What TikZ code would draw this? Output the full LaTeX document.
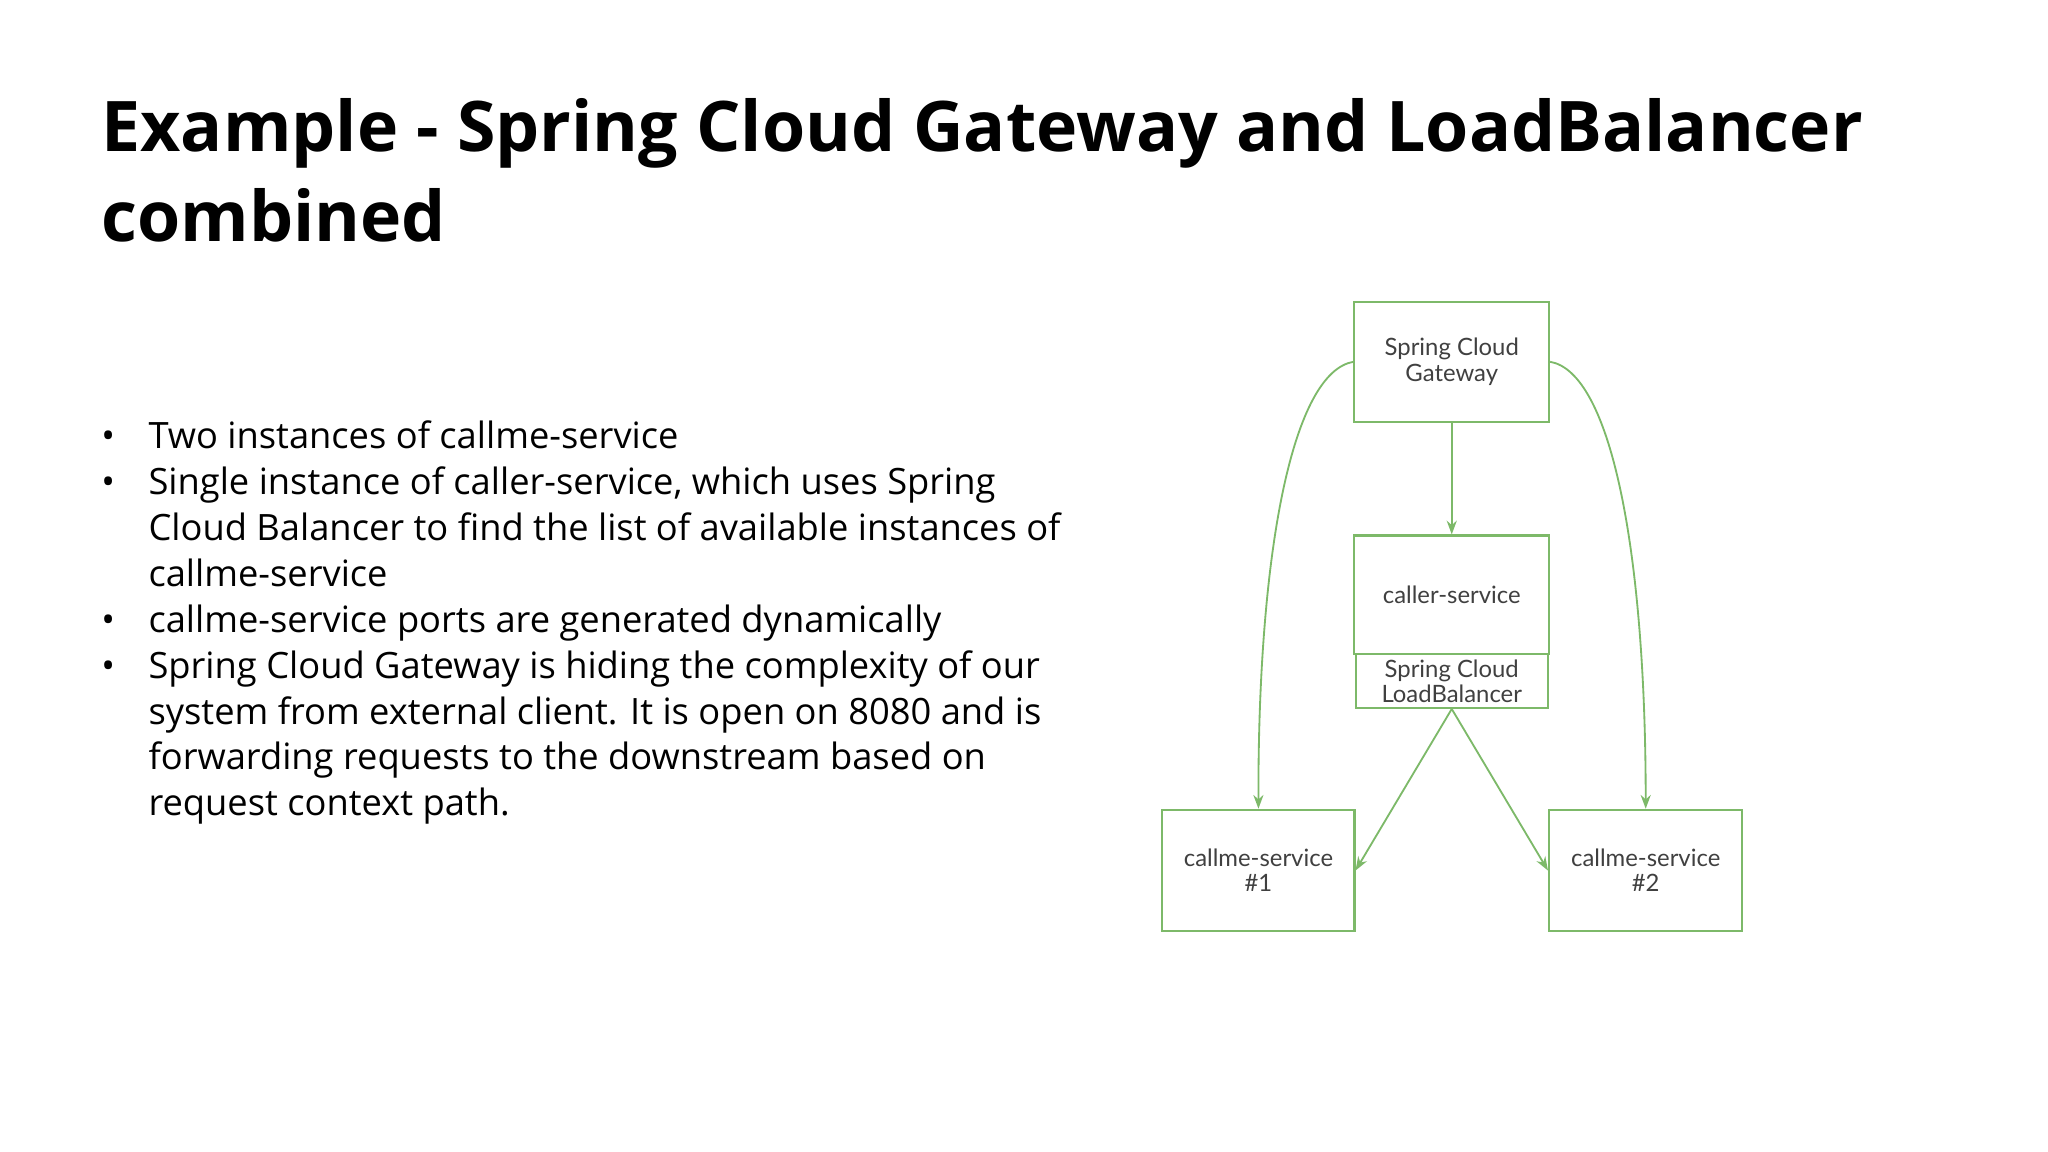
\documentclass[tikz,border=0pt]{standalone}
\usepackage{fontspec}
\setmainfont{Open Sans}
\newfontfamily\boxfont{Lato}
\usetikzlibrary{arrows.meta}
\definecolor{lg}{RGB}{125,185,105}
\begin{document}
\begin{tikzpicture}[x=0.01cm,y=-0.01cm,
  box/.style={draw=lg,line width=0.45pt,minimum width=148\pgflinewidth,inner sep=0pt,align=center,font=\boxfont\fontsize{5.2}{5.5}\selectfont,text=black!75},
  con/.style={draw=lg,line width=0.4pt,-{Stealth[length=3pt,width=2.2pt]}}]
\useasboundingbox (0,0) rectangle (1568,882);
\node[anchor=base west,inner sep=0pt,font=\fontsize{15.2}{19.3}\selectfont\bfseries] (t1) at (77,116) {Example - Spring Cloud Gateway and LoadBalancer};
\node[anchor=base west,inner sep=0pt,font=\fontsize{15.2}{19.3}\selectfont\bfseries] (t2) at (77,185) {combined};
\node[anchor=north west,inner sep=0pt,font=\fontsize{7.9}{10}\selectfont,align=left] (b) at (77,318) {%
\begin{tabular}{@{}p{0.36cm}@{}l@{}}
\textbullet & Two instances of callme-service\\
\textbullet & Single instance of caller-service, which uses Spring\\
 & Cloud Balancer to find the list of available instances of\\
 & callme-service\\
\textbullet & callme-service ports are generated dynamically\\
\textbullet & Spring Cloud Gateway is hiding the complexity of our\\
 & system from external client. It is open on 8080 and is\\
 & forwarding requests to the downstream based on\\
 & request context path.
\end{tabular}};
\node[box,minimum width=1.49cm,minimum height=0.92cm] (gw) at (1111.5,277) {Spring Cloud\\Gateway};
\node[box,minimum width=1.49cm,minimum height=0.91cm] (cs) at (1111.5,455.5) {caller-service};
\node[box,minimum width=1.47cm,minimum height=0.41cm] (lb) at (1111.5,521.5) {Spring Cloud\\LoadBalancer};
\node[box,minimum width=1.47cm,minimum height=0.93cm] (c1) at (963.5,666.5) {callme-service\\\#1};
\node[box,minimum width=1.48cm,minimum height=0.93cm] (c2) at (1260,666.5) {callme-service\\\#2};
\draw[con] (gw.south) -- (cs.north);
\draw[con] (gw.west) .. controls (990,285) and (963,420) .. (c1.north);
\draw[con] (gw.east) .. controls (1233,285) and (1260,420) .. (c2.north);
\draw[con] (lb.south) -- (c1.east);
\draw[con] (lb.south) -- (c2.west);
\end{tikzpicture}
\end{document}
